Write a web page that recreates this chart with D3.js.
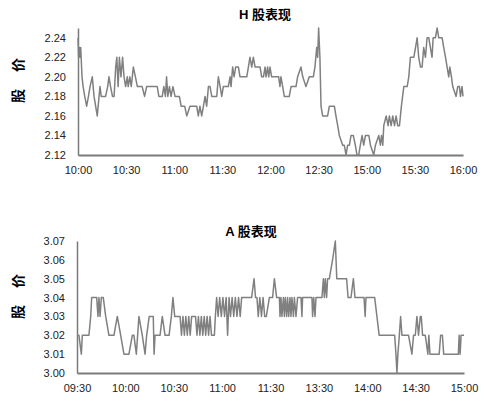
<!DOCTYPE html>
<html lang="zh">
<head>
<meta charset="UTF-8">
<title>H股 / A股表现</title>
<script src="https://cdn.jsdelivr.net/npm/d3@7"></script>
<style>
  body { margin: 0; background: #fff; }
  svg { display: block; font-family: "Liberation Sans", Arial, "Noto Sans CJK SC", sans-serif; }
  .tick text { font-size: 11px; fill: #222; }
  .title { font-size: 13px; font-weight: bold; font-family: "Liberation Sans", "Noto Sans CJK SC", sans-serif; }
  .ylab { font-size: 14px; font-weight: bold; font-family: "Noto Sans CJK SC", sans-serif; letter-spacing: 7px; }
  .series { fill: none; stroke: #808080; stroke-width: 1.5; stroke-linejoin: round; }
</style>
</head>
<body>
<svg width="500" height="408"></svg>
<script>
// H 股: x = minute slot (0..240), one label every 30 slots
var hTimeLabels = ["10:00", "10:30", "11:00", "11:30", "12:00", "12:30", "15:00", "15:30", "16:00"];
var hPriceTicks = [2.12, 2.14, 2.16, 2.18, 2.20, 2.22, 2.24];
var hSlot = [0, 0.4, 0.8, 1.2, 1.7, 2.5, 3.2, 4.2, 5.4, 6.5, 7.5, 8.9, 10, 11, 12, 13.7, 14.5, 17.2, 18.5, 19.3,
  20.3, 21.5, 22.5, 23.5, 24.2, 25, 25.8, 26.8, 27.8, 28.7, 29.7, 30.7, 31.3, 32.3, 33.2, 34.5, 35.8, 37, 40, 41.5,
  42.8, 49.4, 50.4, 52.5, 53.5, 54.5, 55.2, 56, 57, 58, 59.2, 60.5, 63.2, 64.3, 66.5, 67.8, 69.8, 74, 75, 76,
  77.1, 78.2, 79.2, 80.2, 81.3, 82.3, 83.4, 86.5, 87.5, 88.6, 89.6, 90.6, 93.7, 94.8, 95.4, 96.4, 97.3, 98.3, 100, 101,
  105.2, 106.2, 107.2, 108.3, 109.3, 110.4, 113.5, 114.5, 115.6, 116.6, 117.2, 118.2, 118.9, 119.7, 120.7, 125.1, 125.9, 126.5, 127.6, 128.6,
  131.7, 132.8, 135.9, 136.9, 139, 140.1, 142.1, 144.2, 146.7, 147.7, 148.8, 149.4, 150, 150.8, 151.5, 152.5, 155.6, 156.7, 159.8, 160.8,
  161.9, 162.9, 165, 166, 167.1, 168.1, 169.2, 170.2, 171.6, 172.9, 173.9, 175, 176, 177.1, 178.1, 179.2, 181.3, 182.3, 184.4, 185.4,
  187.5, 188.5, 189.2, 190, 190.6, 192.1, 193.3, 194.1, 195.2, 196.2, 197.3, 198.3, 199.3, 200.4, 201.6, 203.1, 205.2, 206.2, 207.2, 209.3,
  210.4, 211.4, 212.4, 213.5, 214.5, 215.5, 216.6, 217.6, 218.7, 219.7, 220.7, 221.4, 222.8, 223.9, 224.9, 227, 228, 229.1, 230.1, 231.1,
  231.8, 232.8, 233.6, 235.7, 236.7, 237.8, 238.4, 239.4, 240];
var hPrice = [2.24, 2.22, 2.23, 2.22, 2.23, 2.20, 2.19, 2.18, 2.17, 2.18, 2.19, 2.20, 2.18, 2.17, 2.16, 2.19, 2.18, 2.18, 2.19, 2.20,
  2.19, 2.18, 2.18, 2.21, 2.22, 2.19, 2.22, 2.20, 2.22, 2.20, 2.19, 2.20, 2.19, 2.20, 2.19, 2.21, 2.20, 2.19, 2.19, 2.18,
  2.19, 2.19, 2.18, 2.18, 2.19, 2.18, 2.20, 2.18, 2.19, 2.18, 2.19, 2.18, 2.18, 2.17, 2.17, 2.16, 2.17, 2.17, 2.16, 2.17,
  2.16, 2.17, 2.18, 2.17, 2.19, 2.19, 2.18, 2.18, 2.20, 2.19, 2.18, 2.19, 2.19, 2.20, 2.19, 2.21, 2.20, 2.21, 2.21, 2.20,
  2.20, 2.21, 2.22, 2.21, 2.22, 2.21, 2.21, 2.20, 2.20, 2.21, 2.20, 2.21, 2.20, 2.21, 2.20, 2.20, 2.19, 2.20, 2.19, 2.18,
  2.18, 2.19, 2.19, 2.20, 2.21, 2.20, 2.19, 2.20, 2.20, 2.21, 2.23, 2.22, 2.25, 2.22, 2.17, 2.16, 2.16, 2.17, 2.17, 2.16,
  2.15, 2.14, 2.13, 2.13, 2.12, 2.13, 2.13, 2.14, 2.14, 2.13, 2.12, 2.12, 2.13, 2.14, 2.13, 2.14, 2.14, 2.13, 2.12, 2.13,
  2.14, 2.13, 2.14, 2.13, 2.15, 2.16, 2.15, 2.16, 2.15, 2.16, 2.15, 2.16, 2.15, 2.15, 2.17, 2.19, 2.19, 2.20, 2.22, 2.22,
  2.23, 2.24, 2.22, 2.21, 2.21, 2.23, 2.22, 2.24, 2.24, 2.23, 2.22, 2.24, 2.24, 2.25, 2.24, 2.24, 2.23, 2.22, 2.21, 2.20,
  2.21, 2.20, 2.19, 2.18, 2.19, 2.19, 2.18, 2.19, 2.18];

// A 股
var aTimeLabels = ["09:30", "10:00", "10:30", "11:00", "11:30", "13:30", "14:00", "14:30", "15:00"];
var aPriceTicks = [3.00, 3.01, 3.02, 3.03, 3.04, 3.05, 3.06, 3.07];
var aSlot = [0, 1.2, 2.7, 3.3, 7.4, 8.5, 9.1, 12.2, 13, 13.6, 14.3, 15.1, 16.3, 17.8, 19.8, 22.9, 25, 27.1, 29.1, 32.2,
  34.3, 35.3, 36.8, 38.4, 40.5, 42.2, 43.2, 44.8, 47.3, 47.8, 48.4, 51.5, 52.9, 54.6, 57.1, 58.5, 59.5, 60.6, 63.9, 64.8,
  65.7, 66.6, 67.5, 68.4, 69.3, 70.2, 71.1, 73.5, 74.4, 75.3, 76.2, 77.1, 78, 78.9, 79.8, 80.7, 81.6, 82.5, 83.4, 85.2,
  85.8, 86.6, 87.5, 88.5, 89.5, 90.5, 91.5, 92.5, 93.4, 94.3, 95.2, 96.2, 97.2, 98.2, 99.2, 100.2, 101.2, 102.1, 108.3, 109.8,
  110.7, 111.6, 112.4, 113.4, 114.4, 115.4, 116.4, 117.4, 119.3, 121.3, 122.4, 123.8, 125.5, 125.9, 126.5, 127.1, 128, 128.6, 129.2, 130,
  130.6, 131.3, 132.1, 132.7, 133.3, 134.2, 134.8, 135.8, 136.8, 138.9, 139.5, 139.9, 145.7, 146.1, 146.8, 147.6, 148.2, 150.3, 151.9, 152.8,
  153.4, 154, 154.8, 155.4, 156.5, 158.5, 160.2, 161.1, 167.2, 168.1, 169.9, 171.4, 172.4, 178, 178.7, 179.2, 184.6, 186, 187.4, 197,
  197.8, 198.4, 199, 199.9, 200.7, 201.5, 205.6, 207.7, 208.7, 209.8, 210.8, 211.8, 212.9, 213.5, 214.3, 216, 217.6, 218.2, 218.9, 224.6,
  225.5, 226.6, 227.4, 236.5, 237, 237.6, 238.2, 240];
var aPrice = [3.02, 3.02, 3.01, 3.02, 3.02, 3.03, 3.04, 3.04, 3.03, 3.04, 3.03, 3.04, 3.04, 3.03, 3.02, 3.02, 3.03, 3.02, 3.01, 3.01,
  3.02, 3.02, 3.01, 3.03, 3.02, 3.01, 3.02, 3.03, 3.03, 3.01, 3.02, 3.02, 3.03, 3.02, 3.02, 3.03, 3.04, 3.03, 3.03, 3.02,
  3.03, 3.02, 3.03, 3.02, 3.03, 3.02, 3.03, 3.03, 3.02, 3.03, 3.02, 3.03, 3.02, 3.03, 3.02, 3.03, 3.02, 3.03, 3.02, 3.02,
  3.03, 3.04, 3.03, 3.04, 3.03, 3.04, 3.03, 3.04, 3.02, 3.04, 3.03, 3.04, 3.03, 3.04, 3.03, 3.04, 3.03, 3.04, 3.04, 3.05,
  3.04, 3.04, 3.03, 3.04, 3.03, 3.04, 3.03, 3.03, 3.04, 3.04, 3.05, 3.04, 3.04, 3.03, 3.04, 3.03, 3.04, 3.03, 3.04, 3.03,
  3.04, 3.03, 3.04, 3.03, 3.04, 3.03, 3.04, 3.03, 3.04, 3.04, 3.03, 3.04, 3.04, 3.03, 3.04, 3.03, 3.04, 3.04, 3.04, 3.05,
  3.04, 3.05, 3.04, 3.05, 3.05, 3.06, 3.07, 3.05, 3.05, 3.04, 3.04, 3.05, 3.04, 3.04, 3.03, 3.04, 3.04, 3.03, 3.02, 3.02,
  3.01, 3.00, 3.01, 3.02, 3.03, 3.02, 3.02, 3.01, 3.02, 3.02, 3.03, 3.02, 3.03, 3.03, 3.02, 3.02, 3.01, 3.02, 3.01, 3.01,
  3.02, 3.02, 3.01, 3.01, 3.02, 3.01, 3.02, 3.02];

var svg = d3.select("svg");

function drawPanel(p) {
    var x = d3.scaleLinear().domain([0, 240]).range([p.left, p.right]);
    var y = d3.scaleLinear().domain(p.yDomain).range([p.bottom, p.top]);

    var xAxis = d3.axisBottom(x)
        .tickValues(p.labels.map(function(d, i) { return i * 30; }))
        .tickFormat(function(d) { return p.labels[d / 30]; })
        .tickSize(0).tickPadding(11);
    var yAxis = d3.axisLeft(y)
        .tickValues(p.yTicks)
        .tickFormat(d3.format(".2f"))
        .tickSize(0).tickPadding(12);

    var gx = svg.append("g").attr("transform", "translate(0," + p.bottom + ")").call(xAxis);
    gx.select(".domain").attr("stroke", "#7a7a7a").attr("stroke-width", 2);
    gx.selectAll("text").attr("font-family", "Liberation Sans, Arial, sans-serif");

    var gy = svg.append("g").attr("transform", "translate(" + p.left + ",0)").call(yAxis);
    gy.select(".domain").attr("stroke", "#7a7a7a").attr("stroke-width", 1.5);
    gy.selectAll("text").attr("font-family", "Liberation Sans, Arial, sans-serif");

    var pts = p.slots.map(function(s, i) { return [s, p.prices[i]]; });
    var line = d3.line()
        .x(function(d) { return x(d[0]); })
        .y(function(d) { return y(d[1]); });
    svg.append("path").attr("class", "series").attr("d", line(pts));

    svg.append("text").attr("class", "title")
        .attr("x", p.titleX).attr("y", p.titleY)
        .attr("text-anchor", "middle").text(p.title);

    svg.append("text").attr("class", "ylab")
        .attr("transform", "translate(23," + p.labelY + ") rotate(-90)")
        .attr("text-anchor", "middle").text("股 价");
}

drawPanel({
    title: "H 股表现", titleX: 265, titleY: 19, labelY: 77,
    left: 78, right: 463, top: 28, bottom: 155,
    yDomain: [2.12, 2.25], yTicks: hPriceTicks, labels: hTimeLabels,
    slots: hSlot, prices: hPrice
});

drawPanel({
    title: "A 股表现", titleX: 251, titleY: 236, labelY: 293,
    left: 77, right: 464, top: 241, bottom: 373,
    yDomain: [3.00, 3.07], yTicks: aPriceTicks, labels: aTimeLabels,
    slots: aSlot, prices: aPrice
});
</script>
</body>
</html>
